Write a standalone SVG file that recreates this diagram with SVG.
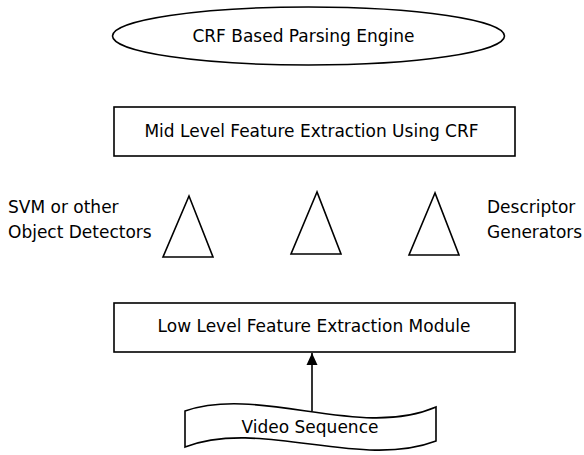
<svg xmlns="http://www.w3.org/2000/svg" width="584" height="455" viewBox="0 0 584 455">
<style>
.s{fill:#fff;stroke:#000;stroke-width:1.6}
.t{font-family:"DejaVu Sans",sans-serif;font-size:17px;fill:#000}
.m{text-anchor:middle}
</style>
<defs>
<marker id="ah" markerWidth="12" markerHeight="12" refX="12" refY="6" orient="auto" markerUnits="userSpaceOnUse">
<path d="M0,0.5 L12,6 L0,11.5 Z" fill="#000"/>
</marker>
</defs>
<rect width="584" height="455" fill="#fff"/>
<g id="crf-engine">
<ellipse class="s" cx="308.5" cy="36" rx="196" ry="29"/>
<text class="t m" x="303.5" y="42">CRF Based Parsing Engine</text>
</g>
<g id="mid-level">
<rect class="s" x="114" y="107" width="401" height="49"/>
<text class="t m" x="311.5" y="137">Mid Level Feature Extraction Using CRF</text>
</g>
<g id="svm-label">
<text class="t" x="8" y="213">SVM or other</text>
<text class="t" x="8" y="238">Object Detectors</text>
</g>
<g id="triangle-1">
<polygon class="s" points="189,196 163,257 213,257"/>
</g>
<g id="triangle-2">
<polygon class="s" points="317,192 291,254 341,254"/>
</g>
<g id="triangle-3">
<polygon class="s" points="435,193 409,255 459,255"/>
</g>
<g id="descriptor-label">
<text class="t" x="487" y="213">Descriptor</text>
<text class="t" x="487" y="238">Generators</text>
</g>
<g id="low-level">
<rect class="s" x="114" y="303" width="401" height="49"/>
<text class="t m" x="314" y="332">Low Level Feature Extraction Module</text>
</g>
<g id="video-sequence">
<path class="s" d="M185,411 C260,385 360,440 436,407 L436,441 C360,470 260,418 185,447 Z"/>
<text class="t m" x="310" y="433">Video Sequence</text>
</g>
<g id="connectors">
<line x1="312" y1="411" x2="312" y2="353" stroke="#000" stroke-width="1.6" marker-end="url(#ah)"/>
</g>
</svg>
